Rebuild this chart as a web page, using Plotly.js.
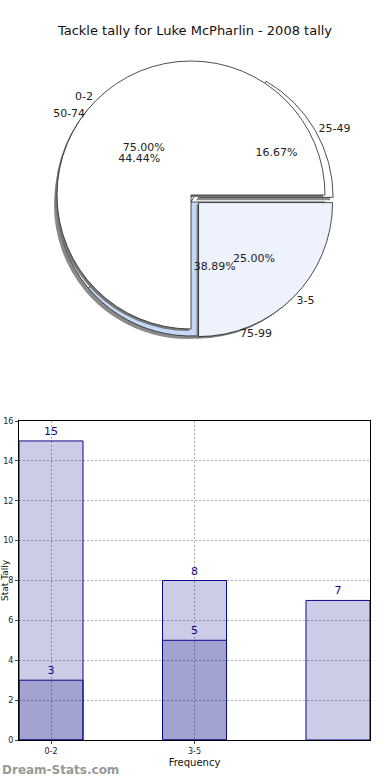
<!DOCTYPE html>
<html>
<head>
<meta charset="utf-8">
<script src="https://cdn.plot.ly/plotly-3.0.1.min.js"></script>
<style>html,body{margin:0;padding:0;background:#fff;}#chart{width:390px;height:780px;}</style>
</head>
<body>
<div id="chart"></div>
<script>
// ---- data ----
var pieALabels = ["0-2", "3-5"];
var pieAValues = [15, 5];
var pieBLabels = ["25-49", "50-74", "75-99"];
var pieBValues = [3, 8, 7];
var barCategories = ["0-2", "3-5", ""];
var barLight = [15, 8, 7];
var barDark = [3, 5, null];
var tickLabels = ["0-2", "3-5"];

// ---- layout helpers ----
var W = 390, H = 780;
var M = {l: 19, r: 20, t: 20, b: 40};
var PW = W - M.l - M.r, PH = H - M.t - M.b;
function dom(cx, cy, half) {
  return {
    x: [(cx - half - M.l) / PW, (cx + half - M.l) / PW],
    y: [(H - M.b - cy - half) / PH, (H - M.b - cy + half) / PH]
  };
}
// first slice starts at 3 o'clock and runs counterclockwise
function startAt3(values) {
  var s = values.reduce(function(a, b){ return a + b; }, 0);
  return 90 - 360 * values[0] / s;
}
var R = 134;
var pullA = [0, 0.08], pullB = [0.07, 0, 0];
var domA = dom(191, 195, R * 1.08);
var domB = dom(191, 202, R * 1.07);
var domBs = dom(188, 205, R * 1.07);
var domAs = dom(189, 197, R * 1.08);

var pieFont = {family: "DejaVu Sans", size: 11, color: "#222"};
function pieBase(labels, values, pull, domain) {
  return {
    type: "pie", labels: labels, values: values, pull: pull, domain: domain,
    sort: false, direction: "counterclockwise", rotation: startAt3(values),
    hoverinfo: "skip", showlegend: false
  };
}
function withProps(base, extra) { for (var k in extra) base[k] = extra[k]; return base; }

var traces = [];
traces.push(withProps(pieBase(pieBLabels, pieBValues, pullB, domBs), {
  marker: {colors: pieBLabels.map(function(){return "#8a8a8a";}), line: {width: 0}}, textinfo: "none"}));
traces.push(withProps(pieBase(pieBLabels, pieBValues, pullB, domB), {
  marker: {colors: ["#ffffff", "#ffffff", "#c6d8f8"], line: {color: "#222", width: 0.8}}, textinfo: "none"}));
traces.push(withProps(pieBase(pieALabels, pieAValues, pullA, domAs), {
  marker: {colors: pieALabels.map(function(){return "#777";}), line: {width: 0}}, textinfo: "none"}));
traces.push(withProps(pieBase(pieALabels, pieAValues, pullA, domA), {
  marker: {colors: ["#ffffff", "#edf2fd"], line: {color: "#222", width: 0.8}}, textinfo: "none"}));
var clear = function(n){ var a=[]; for(var i=0;i<n;i++) a.push("rgba(0,0,0,0)"); return a; };
[[pieALabels, pieAValues, pullA, domA], [pieBLabels, pieBValues, pullB, domB]].forEach(function(p){
  traces.push(withProps(pieBase(p[0], p[1], p[2], p[3]), {
    marker: {colors: clear(p[0].length), line: {width: 0}},
    texttemplate: "%{percent:.2%}", textposition: "inside", insidetextorientation: "horizontal",
    insidetextfont: pieFont}));
  traces.push(withProps(pieBase(p[0], p[1], p[2], p[3]), {
    marker: {colors: clear(p[0].length), line: {width: 0}},
    texttemplate: "%{label}", textposition: "outside", outsidetextfont: pieFont}));
});

var xs = barCategories.map(function(c, i){ return i; });
var navy = "#0a0a8a";
var barFill = "rgba(0,0,128,0.2)";
traces.push({type: "bar", x: xs, y: barLight, width: 0.446, xaxis: "x", yaxis: "y",
  marker: {color: barFill, line: {color: navy, width: 1}},
  text: barLight.map(String), textposition: "outside", cliponaxis: false,
  textfont: {family: "DejaVu Sans", size: 11, color: navy}, hoverinfo: "skip", showlegend: false});
traces.push({type: "bar", x: xs, y: barDark, width: 0.446, xaxis: "x", yaxis: "y",
  marker: {color: barFill, line: {color: navy, width: 1}},
  text: barDark.map(function(v){return v == null ? "" : String(v);}), textposition: "outside", cliponaxis: false,
  textfont: {family: "DejaVu Sans", size: 11, color: navy}, hoverinfo: "skip", showlegend: false});

var layout = {
  width: W, height: H, margin: M, paper_bgcolor: "#fff", plot_bgcolor: "#fff",
  font: {family: "DejaVu Sans", color: "#222"},
  title: {text: "Tackle tally for Luke McPharlin - 2008 tally", x: 0.5, xanchor: "center", xref: "container", y: 1 - 30 / H, yref: "container", yanchor: "middle",
    font: {family: "DejaVu Sans", size: 13, color: "#111"}},
  barmode: "overlay", bargap: 0,
  xaxis: {domain: [0, 1], range: [-0.223, 2.223], tickvals: [0, 1], ticktext: tickLabels,
    showgrid: true, gridcolor: "#aaaaaa", griddash: "2px,2px", gridwidth: 1,
    showline: true, linecolor: "#000", linewidth: 1, mirror: true,
    ticks: "outside", ticklen: 3, tickcolor: "#444", tickfont: {size: 8, color: "#222"},
    title: {text: "Frequency", font: {size: 10, color: "#111"}, standoff: 4}, zeroline: false},
  yaxis: {domain: [0, (H - M.b - 421) / PH], range: [0, 16], dtick: 2,
    showgrid: true, gridcolor: "#aaaaaa", griddash: "2px,2px", gridwidth: 1,
    showline: true, linecolor: "#000", linewidth: 1, mirror: true,
    ticks: "outside", ticklen: 3, tickcolor: "#444", tickfont: {size: 8, color: "#222"},
    title: {text: "Stat Tally", font: {size: 9, color: "#111"}, standoff: 13}, zeroline: false},
  annotations: [{text: "<b>Dream-Stats.com</b>", xref: "paper", yref: "paper", x: -19 / PW, y: -30 / PH,
    xanchor: "left", yanchor: "middle", showarrow: false, font: {family: "DejaVu Sans", size: 12, color: "#999"}}]
};
Plotly.newPlot("chart", traces, layout, {displayModeBar: false, staticPlot: true});
</script>
</body>
</html>
